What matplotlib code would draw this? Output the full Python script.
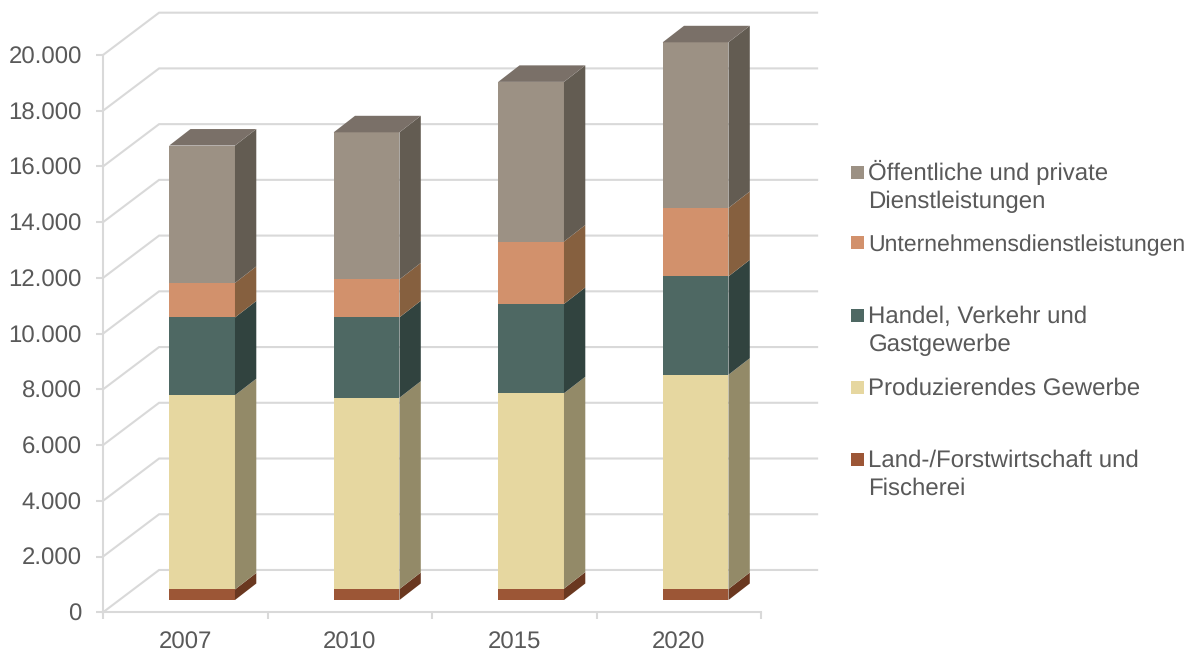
import matplotlib
matplotlib.use('Agg')
import matplotlib.pyplot as plt
import numpy as np

plt.rcParams['font.family'] = ['Liberation Sans', 'DejaVu Sans']
plt.rcParams['text.hinting'] = 'no_hinting'
plt.rcParams['text.hinting_factor'] = 1

# Daten
jahre = ['2007', '2010', '2015', '2020']
land = [380, 395, 410, 395]
produzierend = [6970, 6865, 7010, 7690]
handel = [2790, 2885, 3205, 3530]
unternehmen = [1240, 1360, 2240, 2455]
oeffentlich = [4930, 5280, 5730, 5945]
y_ticks = [0, 2000, 4000, 6000, 8000, 10000, 12000, 14000, 16000, 18000, 20000]

serien = [land, produzierend, handel, unternehmen, oeffentlich]
# Farben: Vorderseite, Seite, Deckel
farben = [('#9C5636', '#6A3820', '#6A3820'),
          ('#E6D7A0', '#938A68', '#938A68'),
          ('#4E6863', '#31433F', '#31433F'),
          ('#D2916C', '#86603F', '#86603F'),
          ('#9C9184', '#635C52', '#7A7068')]

# Text, Farbe, y-Pixel, Schriftgroesse
legende = [('Öffentliche und private\nDienstleistungen', '#9C9184', 172, 17.2),
           ('Unternehmensdienstleistungen', '#D2916C', 243, 16.3),
           ('Handel, Verkehr und\nGastgewerbe', '#4E6863', 315, 17.2),
           ('Produzierendes Gewerbe', '#E6D7A0', 387, 17.2),
           ('Land-/Forstwirtschaft und\nFischerei', '#9C5636', 459, 17.2)]

grau = '#D9D9D9'
text_grau = '#595959'
W, H = 1191, 652

fig = plt.figure(figsize=(W / 100, H / 100), dpi=100)
ax = fig.add_axes([103 / W, (H - 612.3) / H, 658 / W, 557.3 / H])
ax.set_xlim(0, 4)
ax.set_ylim(0, 20000)

# schraege Tiefe des 3D-Rahmens in Achseneinheiten
tiefe_x = 0.341
tiefe_y = 1519
bar_breite = 0.40
bar_start = 0.30
bar_ende = 0.68

# Gitter auf Boden und Rueckwand
for v in y_ticks:
    ax.plot([0, tiefe_x, 4 + tiefe_x], [v, v + tiefe_y, v + tiefe_y],
            color=grau, lw=1.5, clip_on=False, zorder=1, solid_joinstyle='miter')

# gestapelte Saeulen
x_mitte = np.arange(4) + 0.5
sx = bar_start * tiefe_x
sy = 0.29 * tiefe_y
dx = (bar_ende - bar_start) * tiefe_x
dy = (bar_ende - 0.29) * tiefe_y
unten = np.zeros(4)
for i, werte in enumerate(serien):
    vorn, seite, deckel = farben[i]
    werte = np.array(werte, dtype=float)
    ax.bar(x_mitte + sx, werte, bar_breite, bottom=unten + sy, color=vorn, zorder=3,
           clip_on=False)
    for k in range(4):
        r = x_mitte[k] + sx + bar_breite / 2
        u = unten[k] + sy
        o = u + werte[k]
        ax.fill([r, r + dx, r + dx, r], [u, u + dy, o + dy, o], color=seite, lw=0,
                clip_on=False, zorder=3)
        if i == len(serien) - 1:
            l = r - bar_breite
            ax.fill([l, r, r + dx, l + dx], [o, o, o + dy, o + dy], color=deckel, lw=0,
                    clip_on=False, zorder=3)
    unten = unten + werte

# Achsen
for s in ['top', 'right']:
    ax.spines[s].set_visible(False)
for s in ['left', 'bottom']:
    ax.spines[s].set_color(grau)
    ax.spines[s].set_linewidth(1.5)
ax.patch.set_alpha(0)
ax.set_yticks(y_ticks)
ax.set_yticklabels([f'{v:,}'.replace(',', '.') for v in y_ticks], va='center_baseline')
ax.tick_params(axis='y', length=5, width=1.5, color=grau, labelcolor=text_grau,
               labelsize=17, pad=10.3)
ax.set_xticks(range(5))
ax.set_xticklabels([])
ax.set_xticks(x_mitte, minor=True)
ax.set_xticklabels(jahre, minor=True)
ax.tick_params(axis='x', which='major', length=5, width=1.5, color=grau)
ax.tick_params(axis='x', which='minor', length=0, labelcolor=text_grau, labelsize=17, pad=14)

# Legende von Hand, die Abstaende im Original sind unregelmaessig
for label, farbe, y, groesse in legende:
    fig.patches.append(plt.Rectangle((851 / W, (H - y - 6.5) / H), 13 / W, 13 / H,
                                     transform=fig.transFigure, color=farbe, lw=0))
    for n, zeile in enumerate(label.split('\n')):
        fig.text(868.5 / W, (H - y - 8 - n * 28) / H, zeile, color=text_grau,
                 fontsize=groesse, va='baseline', ha='left')

fig.savefig('out.png', dpi=100)
